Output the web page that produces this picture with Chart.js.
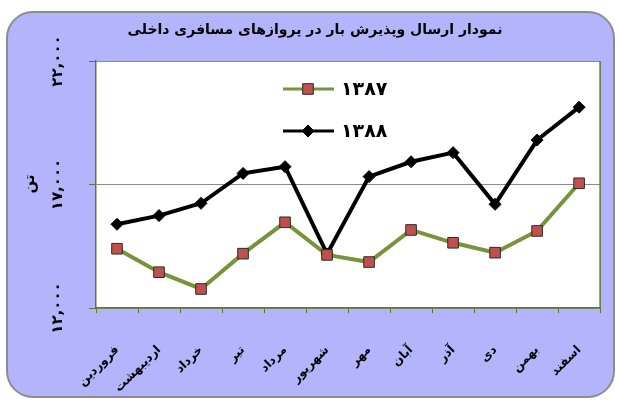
<!DOCTYPE html>
<html>
<head>
<meta charset="utf-8">
<script src="https://cdn.jsdelivr.net/npm/chart.js@4/dist/chart.umd.min.js"></script>
<style>
    html, body { margin: 0; padding: 0; background: #ffffff; }
    #wrap { width: 620px; height: 401px; }
</style>
</head>
<body>
<div id="wrap"><canvas id="chart" width="620" height="401"></canvas></div>
<script>
// Chart data
const months = ['فروردین', 'اردیبهشت', 'خرداد', 'تیر', 'مرداد', 'شهریور',
    'مهر', 'آبان', 'آذر', 'دی', 'بهمن', 'اسفند'];
const values1387 = [14400, 13450, 12770, 14200, 15470, 14150, 13860, 15160, 14640, 14240, 15120, 17050];
const values1388 = [15390, 15740, 16240, 17450, 17720, 14190, 17320, 17920, 18290, 16200, 18800, 20130];
const yTickLabels = ['۱۲,۰۰۰', '۱۷,۰۰۰', '۲۲,۰۰۰'];
const seriesNames = ['۱۳۸۷', '۱۳۸۸'];

const chartTitle = 'نمودار ارسال وپذیرش بار در پروازهای مسافری داخلی';
const yTitle = 'تن';

const FONT = "'DejaVu Sans', sans-serif";
const AXIS_GREEN = '#5a7a2a';

/**
 * Rounded lavender panel, title, rotated y labels and inner legend
 */
const panelPlugin = {
    id: 'panel',
    beforeDraw(chart) {
        const ctx = chart.ctx;
        ctx.save();
        ctx.beginPath();
        ctx.roundRect(7, 12, 607, 385, 26);
        ctx.fillStyle = '#b4b4fd';
        ctx.fill();
        ctx.lineWidth = 2;
        ctx.strokeStyle = '#8c8c8c';
        ctx.stroke();

        // white plot area
        const a = chart.chartArea;
        ctx.fillStyle = '#ffffff';
        ctx.fillRect(a.left, a.top, a.right - a.left, a.bottom - a.top);
        ctx.restore();
    },
    beforeDatasetsDraw(chart) {
        const ctx = chart.ctx;
        const a = chart.chartArea;
        ctx.save();
        ctx.strokeStyle = AXIS_GREEN;
        ctx.lineWidth = 1.5;
        ctx.beginPath();
        ctx.moveTo(a.right, a.top);
        ctx.lineTo(a.right, a.bottom);
        ctx.stroke();

        // title
        ctx.fillStyle = '#000';
        ctx.font = 'bold 14px ' + FONT;
        ctx.textAlign = 'center';
        ctx.textBaseline = 'middle';
        ctx.direction = 'rtl';
        ctx.fillText(chartTitle, 315, 30);

        // y axis tick labels, rotated
        const y = chart.scales.y;
        ctx.font = 'bold 15px ' + FONT;
        ctx.direction = 'ltr';
        y.ticks.forEach((t, i) => {
            const py = y.getPixelForValue(t.value);
            ctx.save();
            ctx.translate(58, py);
            ctx.rotate(-Math.PI / 2);
            ctx.fillText(yTickLabels[i], 0, 0);
            ctx.restore();
        });

        // y title
        ctx.save();
        ctx.translate(30, 184);
        ctx.rotate(-Math.PI / 2);
        ctx.font = 'bold 15px ' + FONT;
        ctx.fillText(yTitle, 0, 0);
        ctx.restore();
        ctx.restore();
    },
    afterDatasetsDraw(chart) {
        // legend drawn inside the plot
        const ctx = chart.ctx;
        const rows = [89, 131];
        chart.data.datasets.forEach((ds, i) => {
            const ly = rows[i];
            ctx.save();
            ctx.strokeStyle = ds.borderColor;
            ctx.lineWidth = ds.borderWidth - 1;
            ctx.beginPath();
            ctx.moveTo(283, ly);
            ctx.lineTo(334, ly);
            ctx.stroke();

            ctx.fillStyle = ds.pointBackgroundColor;
            ctx.strokeStyle = ds.pointBorderColor;
            ctx.lineWidth = ds.pointBorderWidth;
            Chart.helpers.drawPoint(ctx, {
                pointStyle: ds.pointStyle,
                radius: ds.pointRadius,
                borderWidth: ds.pointBorderWidth,
                rotation: 0
            }, 308, ly);
            ctx.restore();

            ctx.save();
            ctx.fillStyle = '#000';
            ctx.font = 'bold 19px ' + FONT;
            ctx.textAlign = 'left';
            ctx.textBaseline = 'middle';
            ctx.fillText(seriesNames[i], 341, ly + 1);
            ctx.restore();
        });
    }
};

const ctx = document.getElementById('chart').getContext('2d');
new Chart(ctx, {
    type: 'line',
    data: {
        labels: months,
        datasets: [
            {
                label: seriesNames[0],
                data: values1387,
                borderColor: '#77933c',
                borderWidth: 4,
                pointStyle: 'rect',
                pointRadius: 7.5,
                pointBackgroundColor: '#c0504d',
                pointBorderColor: '#2b2b2b',
                pointBorderWidth: 1,
                tension: 0
            },
            {
                label: seriesNames[1],
                data: values1388,
                borderColor: '#000000',
                borderWidth: 4,
                pointStyle: 'rectRot',
                pointRadius: 6,
                pointBackgroundColor: '#000000',
                pointBorderColor: '#000000',
                pointBorderWidth: 1,
                tension: 0
            }
        ]
    },
    options: {
        responsive: false,
        animation: false,
        layout: {
            padding: { left: 7, right: 17, top: 61, bottom: 4 }
        },
        plugins: {
            legend: { display: false },
            title: { display: false },
            tooltip: { enabled: false }
        },
        scales: {
            x: {
                offset: true,
                afterFit(scale) { scale.height = 89; },
                grid: {
                    offset: true,
                    drawOnChartArea: false,
                    drawTicks: true,
                    tickLength: 5,
                    color: AXIS_GREEN
                },
                border: { display: true, color: AXIS_GREEN, width: 1.5 },
                ticks: {
                    autoSkip: false,
                    minRotation: 45,
                    maxRotation: 45,
                    padding: 30,
                    color: '#000',
                    font: { family: FONT, size: 12, weight: 'bold' }
                }
            },
            y: {
                min: 12000,
                max: 22000,
                afterFit(scale) { scale.width = 89; },
                ticks: {
                    stepSize: 5000,
                    color: 'rgba(0,0,0,0)',
                    font: { family: FONT, size: 14, weight: 'bold' }
                },
                grid: {
                    color: '#8a8a8a',
                    tickColor: AXIS_GREEN,
                    tickLength: 7,
                    lineWidth: 1
                },
                border: { display: true, color: AXIS_GREEN, width: 1.5 }
            }
        }
    },
    plugins: [panelPlugin]
});
</script>
</body>
</html>
